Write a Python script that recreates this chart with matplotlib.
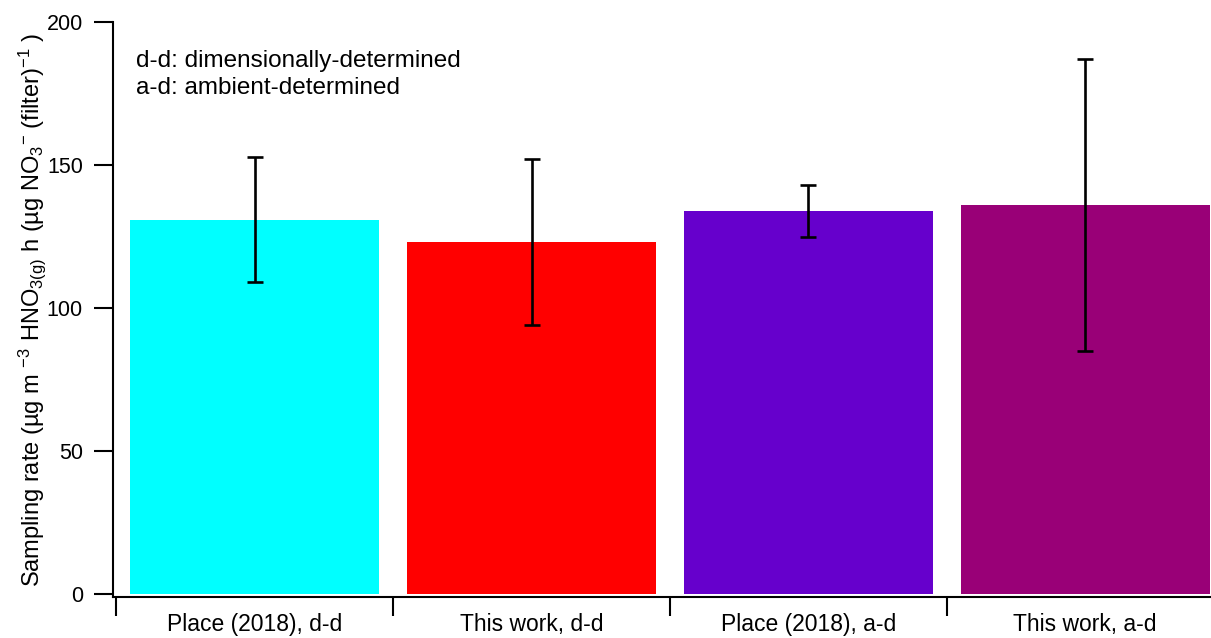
import numpy as np
import matplotlib
matplotlib.use("Agg")
import matplotlib.pyplot as plt
from matplotlib.ticker import FixedLocator, NullFormatter

plt.rcParams["font.family"] = ["Liberation Sans", "DejaVu Sans"]
plt.rcParams["mathtext.fontset"] = "custom"
plt.rcParams["mathtext.rm"] = "Liberation Sans"
plt.rcParams["mathtext.default"] = "regular"

labels = ["Place (2018), d-d", "This work, d-d", "Place (2018), a-d", "This work, a-d"]
rates = [131, 123, 134, 136]
errs = [22, 29, 9, 51]
colors = ["#00FFFF", "#FF0000", "#6600CC", "#990077"]

fig = plt.figure(figsize=(12.11, 6.38), dpi=100)
ax = fig.add_axes([0.0931, 0.0638, 0.9069, 0.9013])

x = np.arange(len(rates))
ax.bar(x, rates, width=0.9, color=colors, zorder=1)
ax.errorbar(x, rates, yerr=errs, fmt="none", ecolor="black",
            elinewidth=1.9, capsize=5.8, capthick=1.9, zorder=2)

ax.set_xlim(-0.513, 3.455)
ax.set_ylim(-1.15, 200)

for s in ["top", "right"]:
    ax.spines[s].set_visible(False)
ax.spines["left"].set_linewidth(1.5)
ax.spines["bottom"].set_linewidth(1.5)

ax.set_yticks([0, 50, 100, 150, 200])
ax.tick_params(axis="y", direction="out", length=13.5, width=1.5, pad=8, labelsize=15.5)

# category boundaries carry the ticks, centres carry the names
ax.xaxis.set_major_locator(FixedLocator([-0.5, 0.5, 1.5, 2.5, 3.5]))
ax.xaxis.set_major_formatter(NullFormatter())
ax.xaxis.set_minor_locator(FixedLocator(list(x)))
ax.set_xticklabels(labels, minor=True)
ax.tick_params(axis="x", which="major", direction="out", length=13.5, width=1.5)
ax.tick_params(axis="x", which="minor", length=0, pad=11, labelsize=16.5)

ax.set_ylabel(r"Sampling rate (µg m $^{-3}$ HNO$_{3(g)}$ h (µg NO$_{3}$$^{-}$ (filter)$^{-1}$ )",
              fontsize=17, labelpad=-1)

ax.text(0.0208, 0.952, "d-d: dimensionally-determined\na-d: ambient-determined",
        transform=ax.transAxes, fontsize=17.5, va="top", ha="left", linespacing=1.3)

fig.savefig("out.png", dpi=100)
